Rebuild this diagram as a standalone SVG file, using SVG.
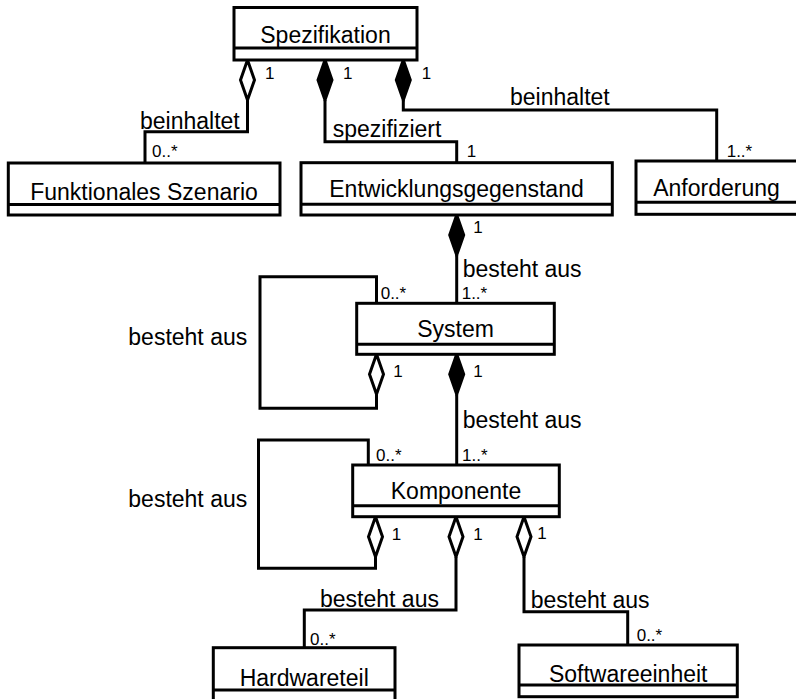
<svg xmlns="http://www.w3.org/2000/svg" width="796" height="699" viewBox="0 0 796 699">
<style>
.box{fill:#fff;stroke:#000;stroke-width:3}
.ln{fill:none;stroke:#000;stroke-width:3}
.dh{fill:#fff;stroke:#000;stroke-width:3}
.df{fill:#000;stroke:#000;stroke-width:3}
text{font-family:"Liberation Sans",Arial,sans-serif;fill:#000}
.nm{font-size:23px;text-anchor:middle}
.lb{font-size:23px}
.mu{font-size:17px}
</style>
<defs>
<polygon id="dmd" points="0,0 7,20 0,40 -7,20"/>
</defs>
<rect width="796" height="699" fill="#fff"/>
<g id="connectors">
<path class="ln" d="M247.5,100 V131.7 H145 V163"/>
<path class="ln" d="M325,100 V141.7 H456.7 V162.7"/>
<path class="ln" d="M403.3,100 V110 H716.7 V161"/>
<path class="ln" d="M456.7,255 V303.3"/>
<path class="ln" d="M376.5,394.3 V408.3 H260 V276.7 H376.5 V303.3"/>
<path class="ln" d="M456.7,394.3 V465"/>
<path class="ln" d="M375.5,556.7 V568.3 H258.5 V440 H368.3 V465"/>
<path class="ln" d="M456,556.7 V610 H304.3 V647.7"/>
<path class="ln" d="M524,556.7 V611.7 H627.7 V645"/>
<use href="#dmd" class="dh" x="247.5" y="60"/>
<use href="#dmd" class="df" x="325" y="60"/>
<use href="#dmd" class="df" x="403.3" y="60"/>
<use href="#dmd" class="df" x="456.7" y="215"/>
<use href="#dmd" class="dh" x="376.5" y="354.3"/>
<use href="#dmd" class="df" x="456.7" y="354.3"/>
<use href="#dmd" class="dh" x="375.5" y="516.7"/>
<use href="#dmd" class="dh" x="456" y="516.7"/>
<use href="#dmd" class="dh" x="524" y="516.7"/>
<text class="lb" x="140" y="129">beinhaltet</text>
<text class="mu" x="152" y="157">0..*</text>
<text class="mu" x="265" y="79">1</text>
<text class="mu" x="343" y="79">1</text>
<text class="mu" x="421.7" y="79">1</text>
<text class="lb" x="332.7" y="137.3">spezifiziert</text>
<text class="mu" x="466.7" y="157.3">1</text>
<text class="lb" x="510" y="105">beinhaltet</text>
<text class="mu" x="726.7" y="157.3">1..*</text>
<text class="mu" x="473.3" y="233.3">1</text>
<text class="lb" x="462.7" y="276.7">besteht aus</text>
<text class="mu" x="461.7" y="299.3">1..*</text>
<text class="mu" x="380.7" y="299.3">0..*</text>
<text class="lb" x="128.3" y="345">besteht aus</text>
<text class="mu" x="393.3" y="376.7">1</text>
<text class="mu" x="473.3" y="376.7">1</text>
<text class="lb" x="462.7" y="428.3">besteht aus</text>
<text class="mu" x="462" y="461">1..*</text>
<text class="mu" x="376" y="461">0..*</text>
<text class="lb" x="128.3" y="506.7">besteht aus</text>
<text class="mu" x="391.7" y="540">1</text>
<text class="mu" x="473.3" y="540">1</text>
<text class="mu" x="537.3" y="539.3">1</text>
<text class="lb" x="320" y="606.7">besteht aus</text>
<text class="mu" x="310" y="645">0..*</text>
<text class="lb" x="530.7" y="607.7">besteht aus</text>
<text class="mu" x="636.7" y="641">0..*</text>
</g>
<g id="spezifikation">
<rect class="box" x="234" y="7.5" width="183" height="52.5"/>
<line class="ln" x1="234" y1="48" x2="417" y2="48"/>
<text class="nm" x="325.5" y="42.7">Spezifikation</text>
</g>
<g id="funktionales-szenario">
<rect class="box" x="8.3" y="163" width="271.7" height="52"/>
<line class="ln" x1="8.3" y1="204.5" x2="280" y2="204.5"/>
<text class="nm" x="144" y="200">Funktionales Szenario</text>
</g>
<g id="entwicklungsgegenstand">
<rect class="box" x="301" y="162.7" width="311.3" height="52.3"/>
<line class="ln" x1="301" y1="204.3" x2="612.3" y2="204.3"/>
<text class="nm" x="456.5" y="196.7">Entwicklungsgegenstand</text>
</g>
<g id="anforderung">
<rect class="box" x="636" y="161" width="165" height="53.3"/>
<line class="ln" x1="636" y1="202.3" x2="801" y2="202.3"/>
<text class="nm" x="716.5" y="196">Anforderung</text>
</g>
<g id="system">
<rect class="box" x="356.7" y="303.3" width="197.6" height="51"/>
<line class="ln" x1="356.7" y1="344.3" x2="554.3" y2="344.3"/>
<text class="nm" x="455.5" y="337">System</text>
</g>
<g id="komponente">
<rect class="box" x="352.7" y="465" width="206.6" height="51.7"/>
<line class="ln" x1="352.7" y1="505.7" x2="559.3" y2="505.7"/>
<text class="nm" x="456" y="499">Komponente</text>
</g>
<g id="hardwareteil">
<rect class="box" x="213.3" y="647.7" width="181.7" height="54"/>
<line class="ln" x1="213.3" y1="690" x2="395" y2="690"/>
<text class="nm" x="304.2" y="685.7">Hardwareteil</text>
</g>
<g id="softwareeinheit">
<rect class="box" x="519" y="645" width="218.3" height="51.7"/>
<line class="ln" x1="519" y1="685" x2="737.3" y2="685"/>
<text class="nm" x="628.2" y="681.7">Softwareeinheit</text>
</g>
</svg>
